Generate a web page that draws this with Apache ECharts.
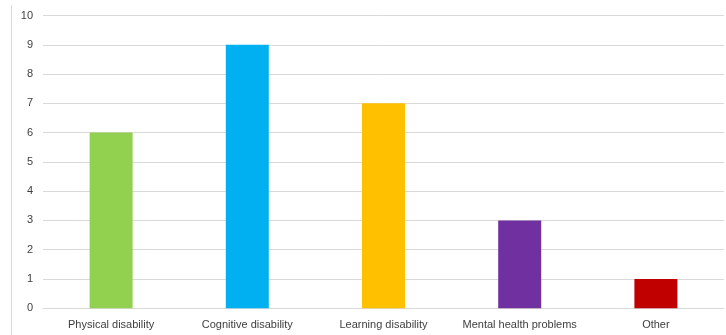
<!DOCTYPE html>
<html>
<head>
<meta charset="utf-8">
<script src="https://cdn.jsdelivr.net/npm/echarts@6/dist/echarts.min.js"></script>
<style>
  html, body { margin: 0; padding: 0; background: #fff; }
  #chart { width: 726px; height: 335px; }
</style>
</head>
<body>
<div id="chart"></div>
<script>
// Disability categories and respondent counts
const categories = ['Physical disability', 'Cognitive disability', 'Learning disability', 'Mental health problems', 'Other'];
const counts = [6, 9, 7, 3, 1];
const barColors = ['#92D050', '#00B0F0', '#FFC000', '#7030A0', '#C00000'];
const yTicks = [0, 1, 2, 3, 4, 5, 6, 7, 8, 9, 10];

const chart = echarts.init(document.getElementById('chart'));
chart.setOption({
  animation: false,
  backgroundColor: '#ffffff',
  textStyle: { fontFamily: 'Liberation Sans, Arial, sans-serif' },
  grid: { left: 43, right: 2, top: 15.5, bottom: 26.7, containLabel: false },
  graphic: [{
    type: 'line',
    shape: { x1: 11.5, y1: 5, x2: 11.5, y2: 335 },
    style: { stroke: '#d9d9d9', lineWidth: 1 }
  }],
  xAxis: {
    type: 'category',
    data: categories,
    axisLine: { show: true, lineStyle: { color: '#d9d9d9' } },
    axisTick: { show: false },
    axisLabel: { color: '#404040', fontSize: 11, margin: 11, interval: 0 }
  },
  yAxis: {
    type: 'value',
    min: yTicks[0],
    max: yTicks[yTicks.length - 1],
    interval: 1,
    axisLine: { show: false },
    axisTick: { show: false },
    axisLabel: { color: '#404040', fontSize: 11, margin: 10 },
    splitLine: { lineStyle: { color: '#d9d9d9', width: 1 } }
  },
  series: [{
    type: 'bar',
    data: counts.map((v, i) => ({ value: v, itemStyle: { color: barColors[i] } })),
    barWidth: 43
  }]
});
</script>
</body>
</html>
